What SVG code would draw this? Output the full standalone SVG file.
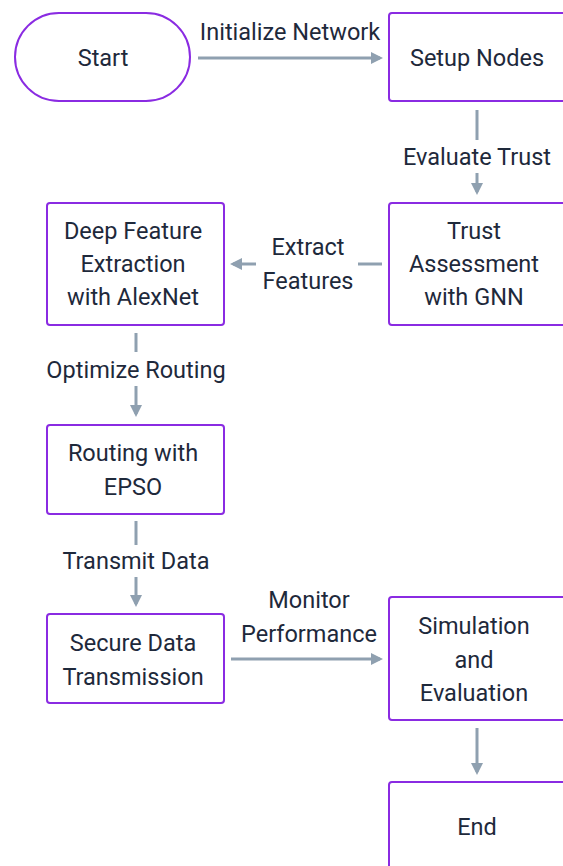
<svg xmlns="http://www.w3.org/2000/svg" width="563" height="866" viewBox="0 0 563 866">
<style>
.n{fill:#fff;stroke:#8a2be2;stroke-width:2}
.t{font-family:Roboto,"Liberation Sans",sans-serif;font-size:23.5px;fill:#1e293b;text-anchor:middle;dominant-baseline:central}
.e{stroke:#8fa0b0;stroke-width:3;fill:none}
.l{font-family:Roboto,"Liberation Sans",sans-serif;font-size:23.5px;fill:#1e293b;text-anchor:middle;dominant-baseline:central}
</style>
<defs>
<marker id="a" markerWidth="4" markerHeight="4" refX="3" refY="2" orient="auto" markerUnits="strokeWidth">
<path d="M0,0L4,2L0,4z" fill="#8fa0b0"/>
</marker>
</defs>
<rect width="563" height="866" fill="#fff"/>
<g id="edges">
<line class="e" x1="198" y1="58" x2="380" y2="58" marker-end="url(#a)"/>
<text class="l" x="290" y="32">Initialize Network</text>
<line class="e" x1="477" y1="110" x2="477" y2="140"/>
<line class="e" x1="477" y1="173" x2="477" y2="192" marker-end="url(#a)"/>
<text class="l" x="477" y="157">Evaluate Trust</text>
<line class="e" x1="382" y1="264" x2="358" y2="264"/>
<line class="e" x1="256" y1="264" x2="233" y2="264" marker-end="url(#a)"/>
<text class="l" x="308" y="247">Extract</text>
<text class="l" x="308" y="281">Features</text>
<line class="e" x1="136" y1="333" x2="136" y2="352"/>
<line class="e" x1="136" y1="386" x2="136" y2="414" marker-end="url(#a)"/>
<text class="l" x="136" y="370">Optimize Routing</text>
<line class="e" x1="136" y1="521" x2="136" y2="545"/>
<line class="e" x1="136" y1="577" x2="136" y2="604" marker-end="url(#a)"/>
<text class="l" x="136" y="561">Transmit Data</text>
<line class="e" x1="231" y1="659" x2="380" y2="659" marker-end="url(#a)"/>
<text class="l" x="309" y="600">Monitor</text>
<text class="l" x="309" y="634">Performance</text>
<line class="e" x1="477" y1="728" x2="477" y2="772" marker-end="url(#a)"/>
</g>
<g id="start"><rect class="n" x="15" y="13" width="175" height="88" rx="44"/><text class="t" x="103" y="58">Start</text></g>
<g id="setup"><rect class="n" x="389" y="13" width="177" height="88" rx="3"/><text class="t" x="477" y="58">Setup Nodes</text></g>
<g id="trust"><rect class="n" x="389" y="203" width="177" height="122" rx="3"/><text class="t" x="474" y="231">Trust</text><text class="t" x="474" y="264">Assessment</text><text class="t" x="474" y="297">with GNN</text></g>
<g id="deep"><rect class="n" x="47" y="203" width="177" height="122" rx="3"/><text class="t" x="133" y="231">Deep Feature</text><text class="t" x="133" y="264">Extraction</text><text class="t" x="133" y="297">with AlexNet</text></g>
<g id="routing"><rect class="n" x="47" y="425" width="177" height="89" rx="3"/><text class="t" x="133" y="453">Routing with</text><text class="t" x="133" y="487">EPSO</text></g>
<g id="secure"><rect class="n" x="47" y="614" width="177" height="89" rx="3"/><text class="t" x="133" y="643">Secure Data</text><text class="t" x="133" y="677">Transmission</text></g>
<g id="sim"><rect class="n" x="389" y="597" width="177" height="123" rx="3"/><text class="t" x="474" y="626">Simulation</text><text class="t" x="474" y="660">and</text><text class="t" x="474" y="693">Evaluation</text></g>
<g id="end"><rect class="n" x="389" y="782" width="177" height="90" rx="3"/><text class="t" x="477" y="827">End</text></g>
</svg>
